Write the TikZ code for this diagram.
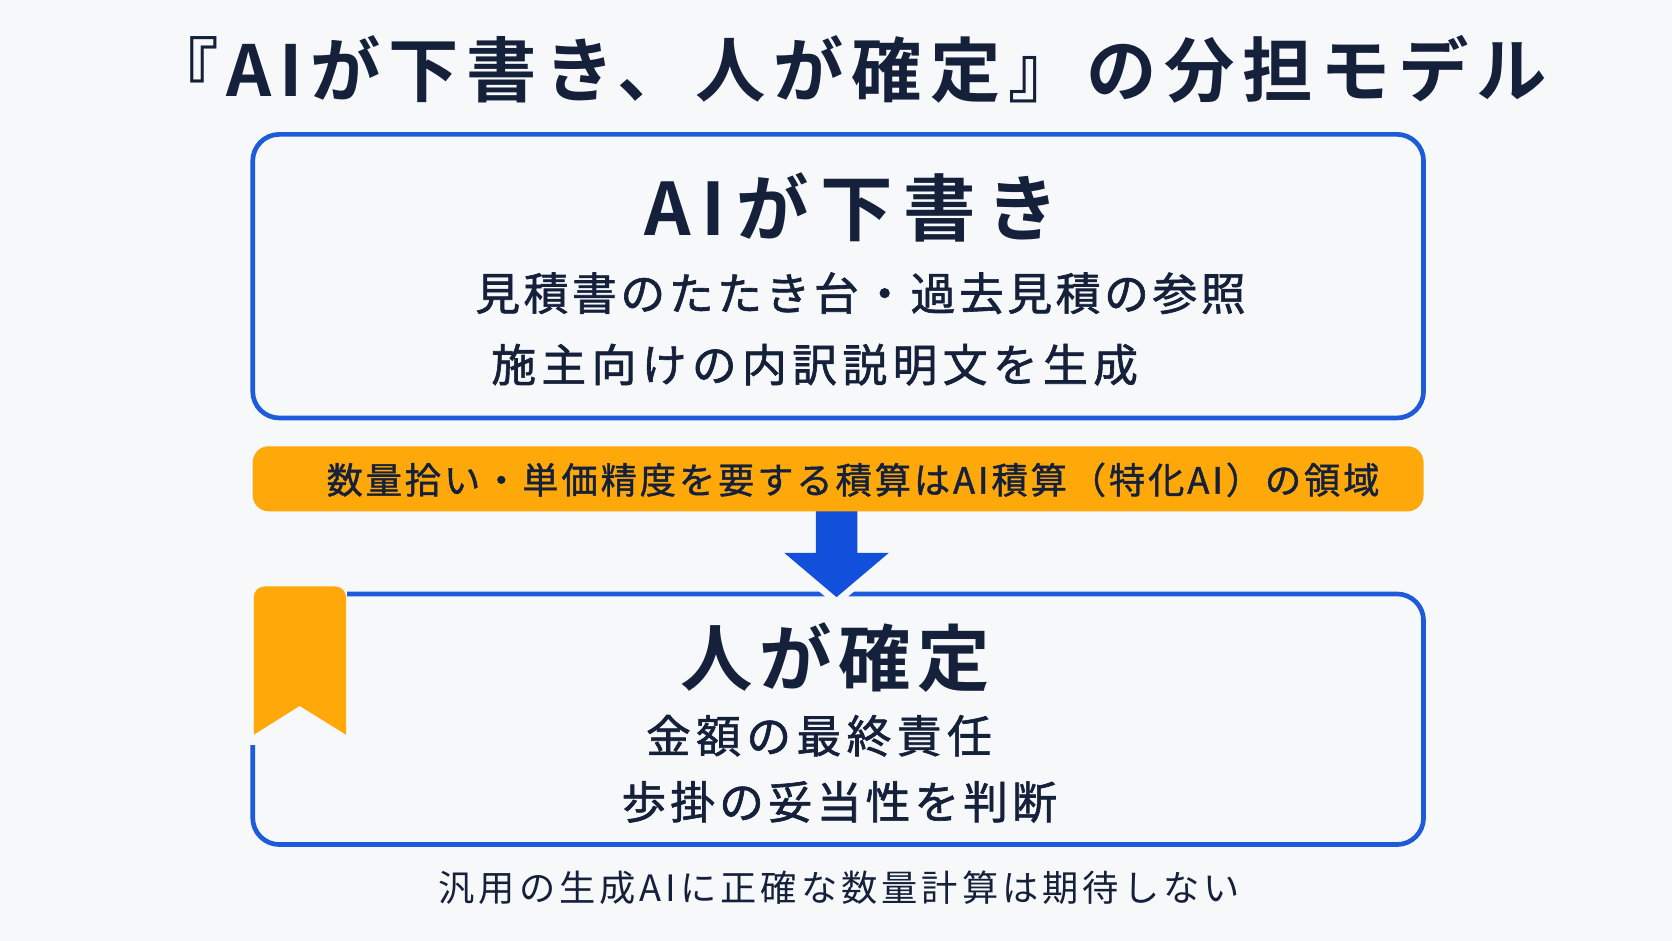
\documentclass[tikz,border=0pt]{standalone}
\usepackage{fontspec}
\setmainfont{Noto Sans CJK JP}[BoldFont=* Bold]
\usepackage{tikz}
\usetikzlibrary{positioning,calc}
\definecolor{bgc}{HTML}{F7F8FA}
\definecolor{ink}{HTML}{15213B}
\definecolor{lineblue}{HTML}{1E5BD8}
\definecolor{arrowblue}{HTML}{1250DC}
\definecolor{amber}{HTML}{FFA80A}
\newcommand{\hdfont}[1]{\fontsize{34pt}{40pt}\selectfont\bfseries\addfontfeatures{LetterSpace=#1}}
\newcommand{\bdfont}[1]{\fontsize{21pt}{26pt}\selectfont\addfontfeatures{FakeBold=1.4,LetterSpace=#1}}

\begin{document}
\begin{tikzpicture}[x=0.5pt,y=-0.5pt,on grid]
        \tikzstyle{panel}=[draw=lineblue,line width=2.2pt,rounded corners=12.5pt,minimum width=549pt,inner sep=0pt]
        \tikzstyle{txt}=[text=ink,inner sep=0pt]
        \fill[bgc] (0,0) rectangle (1568,882);
        \useasboundingbox (0,0) rectangle (1568,882);
        % title
        \node[txt,font=\fontsize{33pt}{40pt}\selectfont\bfseries\addfontfeatures{LetterSpace=11}] (Ttl) at (795,65) {『AIが下書き、人が確定』の分担モデル};
        % the two panels
        \node[panel,minimum height=133pt] (Dr) at (786,259) {};
        \node[panel,minimum height=117.5pt] (Cf) at (786,674.5) {};
        % bookmark on the lower panel
        \fill[bgc] (228,545) rectangle (325,699);
        \fill[amber] (238,689) [rounded corners=5pt]-- (238,550) -- (324.5,550) [sharp corners]-- (324.5,689) -- (281,662) -- cycle;
        % arrow from the bar down to the lower panel
        \coordinate (Tip) at (784.5,560);
        \draw[bgc,line width=6.5pt,line join=round] ($(Tip)+(-49,-41.5)$) -- (Tip) -- ($(Tip)+(49,-41.5)$);
        \fill[arrowblue] ($(Tip)+(-19.5,-90)$) -- ($(Tip)+(-19.5,-41.5)$) -- ($(Tip)+(-49,-41.5)$) -- (Tip)
            -- ($(Tip)+(49,-41.5)$) -- ($(Tip)+(19.5,-41.5)$) -- ($(Tip)+(19.5,-90)$) -- cycle;
        \node[fill=amber,rounded corners=7.5pt,minimum width=549pt,minimum height=30.5pt,inner sep=0pt] (Bar) at (786,449) {};
        % texts
        \node[txt,font=\hdfont{15}] (DrHd) at (799,195) {AIが下書き};
        \node[txt,font=\bdfont{8}] (DrA) at (807,275) {見積書のたたき台・過去見積の参照};
        \node[txt,font=\bdfont{12}] (DrB) at (764,342) {施主向けの内訳説明文を生成};
        \node[txt,font=\fontsize{17pt}{20pt}\selectfont\addfontfeatures{FakeBold=1.2,LetterSpace=8}] (BarTx) at (800,450) {数量拾い・単価精度を要する積算はAI積算（特化AI）の領域};
        \node[txt,font=\hdfont{9}] (CfHd) at (783,617) {人が確定};
        \node[txt,font=\bdfont{12}] (CfA) at (768,690) {金額の最終責任};
        \node[txt,font=\bdfont{9}] (CfB) at (787,752) {歩掛の妥当性を判断};
        \node[txt,font=\fontsize{17pt}{20pt}\selectfont\addfontfeatures{LetterSpace=11}] (Ft) at (787,833) {汎用の生成AIに正確な数量計算は期待しない};
    \end{tikzpicture}
\end{document}
